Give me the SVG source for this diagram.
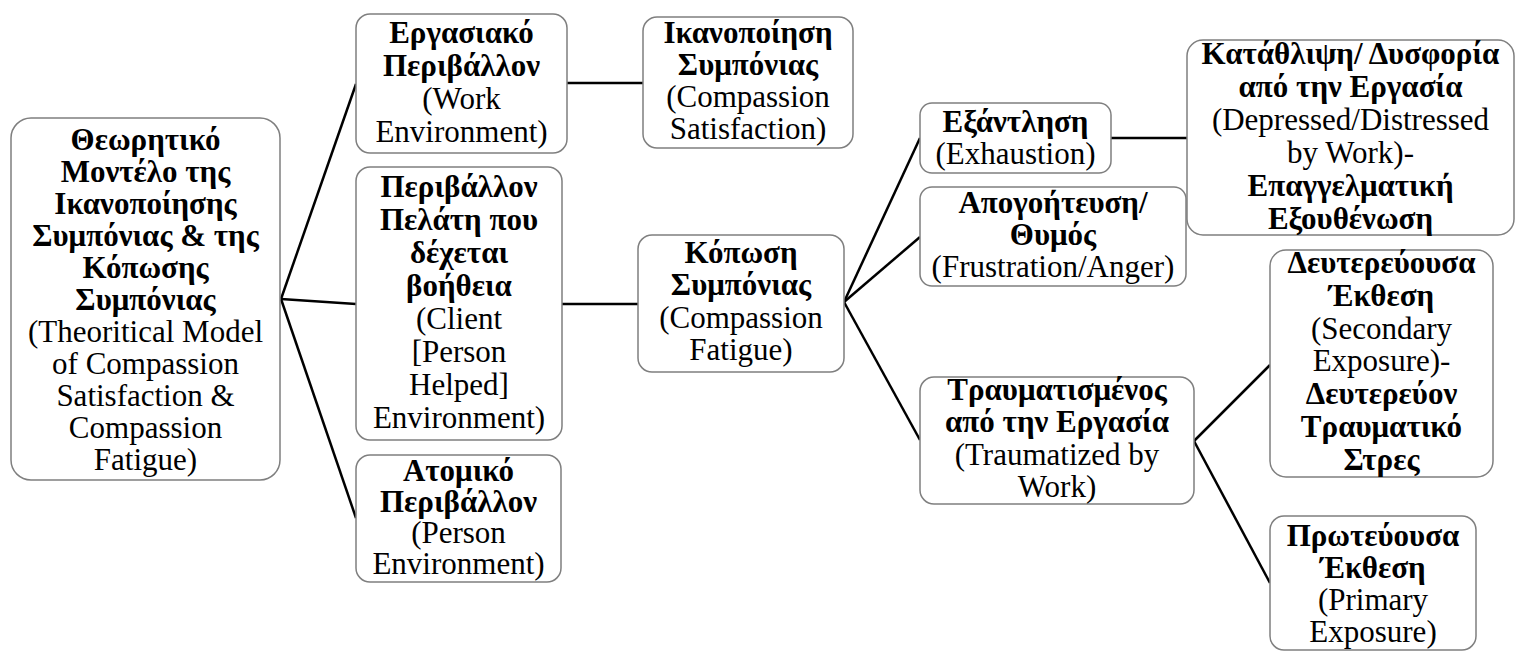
<svg xmlns="http://www.w3.org/2000/svg" width="1516" height="652" viewBox="0 0 1516 652">
<style>
.box{fill:#fff;stroke:#7f7f7f;stroke-width:1.5}
.t{font-family:'Liberation Serif';font-size:31px;fill:#000;text-anchor:middle}
.b{font-weight:bold}
.conn{stroke:#000;stroke-width:2.5;fill:none}
</style>
<g id="connectors">
<line class="conn" x1="281" y1="299" x2="356" y2="84"/>
<line class="conn" x1="281" y1="299" x2="356" y2="304"/>
<line class="conn" x1="281" y1="299" x2="356" y2="518"/>
<line class="conn" x1="567" y1="83" x2="643" y2="83"/>
<line class="conn" x1="562" y1="304" x2="638" y2="304"/>
<line class="conn" x1="844" y1="302" x2="920" y2="138"/>
<line class="conn" x1="844" y1="302" x2="920" y2="237"/>
<line class="conn" x1="844" y1="302" x2="920" y2="440"/>
<line class="conn" x1="1111" y1="138" x2="1187" y2="138"/>
<line class="conn" x1="1194" y1="441" x2="1270" y2="365"/>
<line class="conn" x1="1194" y1="441" x2="1270" y2="583"/>
</g>
<g id="root">
<rect class="box" x="11" y="118" width="269" height="362" rx="20"/>
<text x="145.5" y="150" class="t b" font-family="Liberation Serif" style="font-family:'Liberation Serif'">Θεωρητικό</text>
<text x="145.5" y="182" class="t b" font-family="Liberation Serif" style="font-family:'Liberation Serif'">Μοντέλο της</text>
<text x="145.5" y="214" class="t b" font-family="Liberation Serif" style="font-family:'Liberation Serif'">Ικανοποίησης</text>
<text x="145.5" y="246" class="t b" font-family="Liberation Serif" style="font-family:'Liberation Serif'">Συμπόνιας &amp; της</text>
<text x="145.5" y="278" class="t b" font-family="Liberation Serif" style="font-family:'Liberation Serif'">Κόπωσης</text>
<text x="145.5" y="310" class="t b" font-family="Liberation Serif" style="font-family:'Liberation Serif'">Συμπόνιας</text>
<text x="145.5" y="342" class="t" font-family="Liberation Serif" style="font-family:'Liberation Serif'">(Theoritical Model</text>
<text x="145.5" y="374" class="t" font-family="Liberation Serif" style="font-family:'Liberation Serif'">of Compassion</text>
<text x="145.5" y="406" class="t" font-family="Liberation Serif" style="font-family:'Liberation Serif'">Satisfaction &amp;</text>
<text x="145.5" y="438" class="t" font-family="Liberation Serif" style="font-family:'Liberation Serif'">Compassion</text>
<text x="145.5" y="470" class="t" font-family="Liberation Serif" style="font-family:'Liberation Serif'">Fatigue)</text>
</g>
<g id="work-env">
<rect class="box" x="356" y="14" width="211" height="139" rx="14"/>
<text x="461.5" y="43" class="t b" font-family="Liberation Serif" style="font-family:'Liberation Serif'">Εργασιακό</text>
<text x="461.5" y="76" class="t b" font-family="Liberation Serif" style="font-family:'Liberation Serif'">Περιβάλλον</text>
<text x="461.5" y="109" class="t" font-family="Liberation Serif" style="font-family:'Liberation Serif'">(Work</text>
<text x="461.5" y="142" class="t" font-family="Liberation Serif" style="font-family:'Liberation Serif'">Environment)</text>
</g>
<g id="client-env">
<rect class="box" x="356" y="167" width="206" height="273" rx="14"/>
<text x="459" y="197" class="t b" font-family="Liberation Serif" style="font-family:'Liberation Serif'">Περιβάλλον</text>
<text x="459" y="230" class="t b" font-family="Liberation Serif" style="font-family:'Liberation Serif'">Πελάτη που</text>
<text x="459" y="263" class="t b" font-family="Liberation Serif" style="font-family:'Liberation Serif'">δέχεται</text>
<text x="459" y="296" class="t b" font-family="Liberation Serif" style="font-family:'Liberation Serif'">βοήθεια</text>
<text x="459" y="329" class="t" font-family="Liberation Serif" style="font-family:'Liberation Serif'">(Client</text>
<text x="459" y="362" class="t" font-family="Liberation Serif" style="font-family:'Liberation Serif'">[Person</text>
<text x="459" y="395" class="t" font-family="Liberation Serif" style="font-family:'Liberation Serif'">Helped]</text>
<text x="459" y="428" class="t" font-family="Liberation Serif" style="font-family:'Liberation Serif'">Environment)</text>
</g>
<g id="person-env">
<rect class="box" x="356" y="455" width="205" height="127" rx="14"/>
<text x="458.5" y="481" class="t b" font-family="Liberation Serif" style="font-family:'Liberation Serif'">Ατομικό</text>
<text x="458.5" y="512" class="t b" font-family="Liberation Serif" style="font-family:'Liberation Serif'">Περιβάλλον</text>
<text x="458.5" y="543" class="t" font-family="Liberation Serif" style="font-family:'Liberation Serif'">(Person</text>
<text x="458.5" y="574" class="t" font-family="Liberation Serif" style="font-family:'Liberation Serif'">Environment)</text>
</g>
<g id="comp-satisfaction">
<rect class="box" x="643" y="17" width="210" height="131" rx="14"/>
<text x="748" y="43" class="t b" font-family="Liberation Serif" style="font-family:'Liberation Serif'">Ικανοποίηση</text>
<text x="748" y="75" class="t b" font-family="Liberation Serif" style="font-family:'Liberation Serif'">Συμπόνιας</text>
<text x="748" y="107" class="t" font-family="Liberation Serif" style="font-family:'Liberation Serif'">(Compassion</text>
<text x="748" y="139" class="t" font-family="Liberation Serif" style="font-family:'Liberation Serif'">Satisfaction)</text>
</g>
<g id="comp-fatigue">
<rect class="box" x="638" y="235" width="206" height="137" rx="14"/>
<text x="741" y="263" class="t b" font-family="Liberation Serif" style="font-family:'Liberation Serif'">Κόπωση</text>
<text x="741" y="295" class="t b" font-family="Liberation Serif" style="font-family:'Liberation Serif'">Συμπόνιας</text>
<text x="741" y="328" class="t" font-family="Liberation Serif" style="font-family:'Liberation Serif'">(Compassion</text>
<text x="741" y="360" class="t" font-family="Liberation Serif" style="font-family:'Liberation Serif'">Fatigue)</text>
</g>
<g id="exhaustion">
<rect class="box" x="920" y="103" width="191" height="70" rx="12"/>
<text x="1015.5" y="132" class="t b" font-family="Liberation Serif" style="font-family:'Liberation Serif'">Εξάντληση</text>
<text x="1015.5" y="164" class="t" font-family="Liberation Serif" style="font-family:'Liberation Serif'">(Exhaustion)</text>
</g>
<g id="frustration">
<rect class="box" x="920" y="187" width="266" height="99" rx="12"/>
<text x="1053" y="213" class="t b" font-family="Liberation Serif" style="font-family:'Liberation Serif'">Απογοήτευση/</text>
<text x="1053" y="245" class="t b" font-family="Liberation Serif" style="font-family:'Liberation Serif'">Θυμός</text>
<text x="1053" y="277" class="t" font-family="Liberation Serif" style="font-family:'Liberation Serif'">(Frustration/Anger)</text>
</g>
<g id="traumatized">
<rect class="box" x="920" y="377" width="274" height="127" rx="14"/>
<text x="1057" y="400" class="t b" font-family="Liberation Serif" style="font-family:'Liberation Serif'">Τραυματισμένος</text>
<text x="1057" y="432" class="t b" font-family="Liberation Serif" style="font-family:'Liberation Serif'">από την Εργασία</text>
<text x="1057" y="465" class="t" font-family="Liberation Serif" style="font-family:'Liberation Serif'">(Traumatized by</text>
<text x="1057" y="497" class="t" font-family="Liberation Serif" style="font-family:'Liberation Serif'">Work)</text>
</g>
<g id="depressed">
<rect class="box" x="1187" y="40" width="327" height="195" rx="16"/>
<text x="1350.5" y="64" class="t b" font-family="Liberation Serif" style="font-family:'Liberation Serif'">Κατάθλιψη/ Δυσφορία</text>
<text x="1350.5" y="97" class="t b" font-family="Liberation Serif" style="font-family:'Liberation Serif'">από την Εργασία</text>
<text x="1350.5" y="130" class="t" font-family="Liberation Serif" style="font-family:'Liberation Serif'">(Depressed/Distressed</text>
<text x="1350.5" y="163" class="t" font-family="Liberation Serif" style="font-family:'Liberation Serif'">by Work)-</text>
<text x="1350.5" y="196" class="t b" font-family="Liberation Serif" style="font-family:'Liberation Serif'">Επαγγελματική</text>
<text x="1350.5" y="229" class="t b" font-family="Liberation Serif" style="font-family:'Liberation Serif'">Εξουθένωση</text>
</g>
<g id="secondary">
<rect class="box" x="1270" y="250" width="223" height="227" rx="16"/>
<text x="1381.5" y="273" class="t b" font-family="Liberation Serif" style="font-family:'Liberation Serif'">Δευτερεύουσα</text>
<text x="1381.5" y="306" class="t b" font-family="Liberation Serif" style="font-family:'Liberation Serif'">Έκθεση</text>
<text x="1381.5" y="339" class="t" font-family="Liberation Serif" style="font-family:'Liberation Serif'">(Secondary</text>
<text x="1381.5" y="371" class="t" font-family="Liberation Serif" style="font-family:'Liberation Serif'">Exposure)-</text>
<text x="1381.5" y="404" class="t b" font-family="Liberation Serif" style="font-family:'Liberation Serif'">Δευτερεύον</text>
<text x="1381.5" y="437" class="t b" font-family="Liberation Serif" style="font-family:'Liberation Serif'">Τραυματικό</text>
<text x="1381.5" y="470" class="t b" font-family="Liberation Serif" style="font-family:'Liberation Serif'">Στρες</text>
</g>
<g id="primary">
<rect class="box" x="1270" y="516" width="206" height="134" rx="14"/>
<text x="1373" y="546" class="t b" font-family="Liberation Serif" style="font-family:'Liberation Serif'">Πρωτεύουσα</text>
<text x="1373" y="578" class="t b" font-family="Liberation Serif" style="font-family:'Liberation Serif'">Έκθεση</text>
<text x="1373" y="610" class="t" font-family="Liberation Serif" style="font-family:'Liberation Serif'">(Primary</text>
<text x="1373" y="642" class="t" font-family="Liberation Serif" style="font-family:'Liberation Serif'">Exposure)</text>
</g>
</svg>
